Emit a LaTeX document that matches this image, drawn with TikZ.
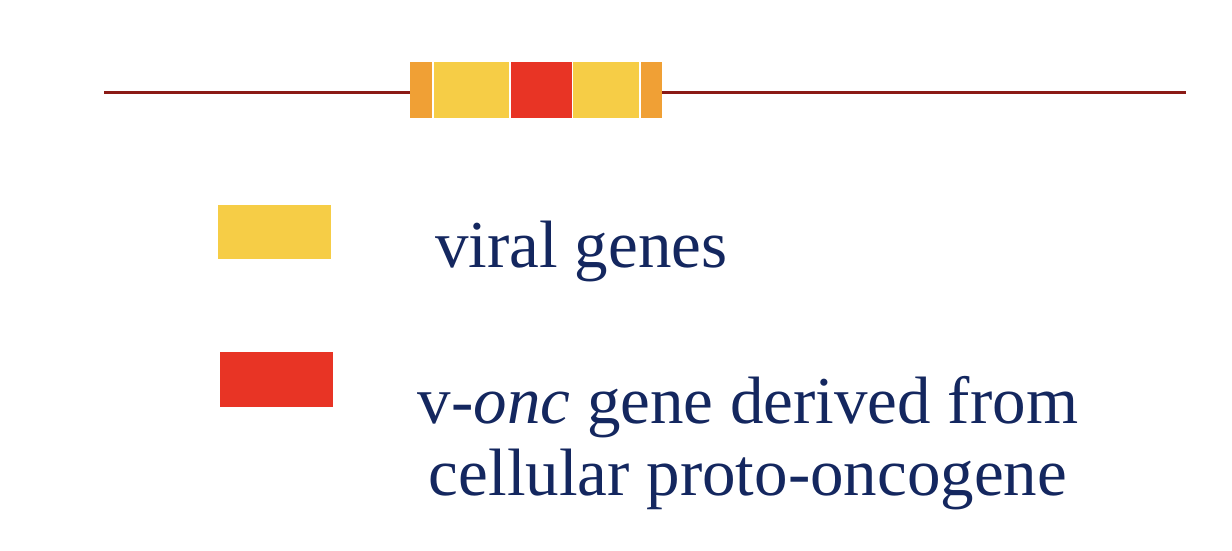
\documentclass[tikz,border=0pt]{standalone}
\usepackage{fontspec}
\setmainfont{Liberation Serif}
\usepackage{tikz}
\usetikzlibrary{positioning}
\definecolor{provirusred}{HTML}{8B1A16}
\definecolor{ltrorange}{HTML}{F0A035}
\definecolor{viralyellow}{HTML}{F6CD46}
\definecolor{onconred}{HTML}{E83425}
\definecolor{labelnavy}{HTML}{14275F}

\tikzset{
  segment/.style={fill=#1, draw=none, inner sep=0pt, minimum height=56pt, outer sep=0pt},
  keybox/.style={fill=#1, draw=none, inner sep=0pt, minimum width=113pt, minimum height=54pt},
  keytext/.style={text=labelnavy, inner sep=0pt, font=\fontsize{67}{72}\selectfont}
}

\begin{document}
\begin{tikzpicture}[x=1pt, y=-1pt]
    \useasboundingbox (0,0) rectangle (1232,550);
    % Provirus with inserted oncogene
    \node[segment=ltrorange, minimum width=22pt] (ltrL) at (421,89.5) {};
    \node[segment=viralyellow, minimum width=75pt, right=2pt of ltrL] (viralL) {};
    \node[segment=onconred, minimum width=61pt, right=2pt of viralL] (vonc) {};
    \node[segment=viralyellow, minimum width=66pt, right=1pt of vonc] (viralR) {};
    \node[segment=ltrorange, minimum width=21pt, right=2pt of viralR] (ltrR) {};
    \coordinate (hostL) at (104,92);
    \coordinate (hostR) at (1186,92);
    \draw[provirusred, line width=3pt] (hostL) -- (ltrL.west |- hostL);
    \draw[provirusred, line width=3pt] (ltrR.east |- hostR) -- (hostR);
    % Key
    \node[keybox=viralyellow] (keyviral) at (274.5,232) {};
    \node[keybox=onconred, minimum height=55pt] (keyonc) at (276.5,379.5) {};
    \node[keytext, anchor=base west] (viraltext) at (435,267) {viral genes};
    \node[keytext, anchor=base, align=center] (onctext) at (748,495)
      {v-\textit{onc} gene derived from\\cellular proto-oncogene};
  \end{tikzpicture}
\end{document}
